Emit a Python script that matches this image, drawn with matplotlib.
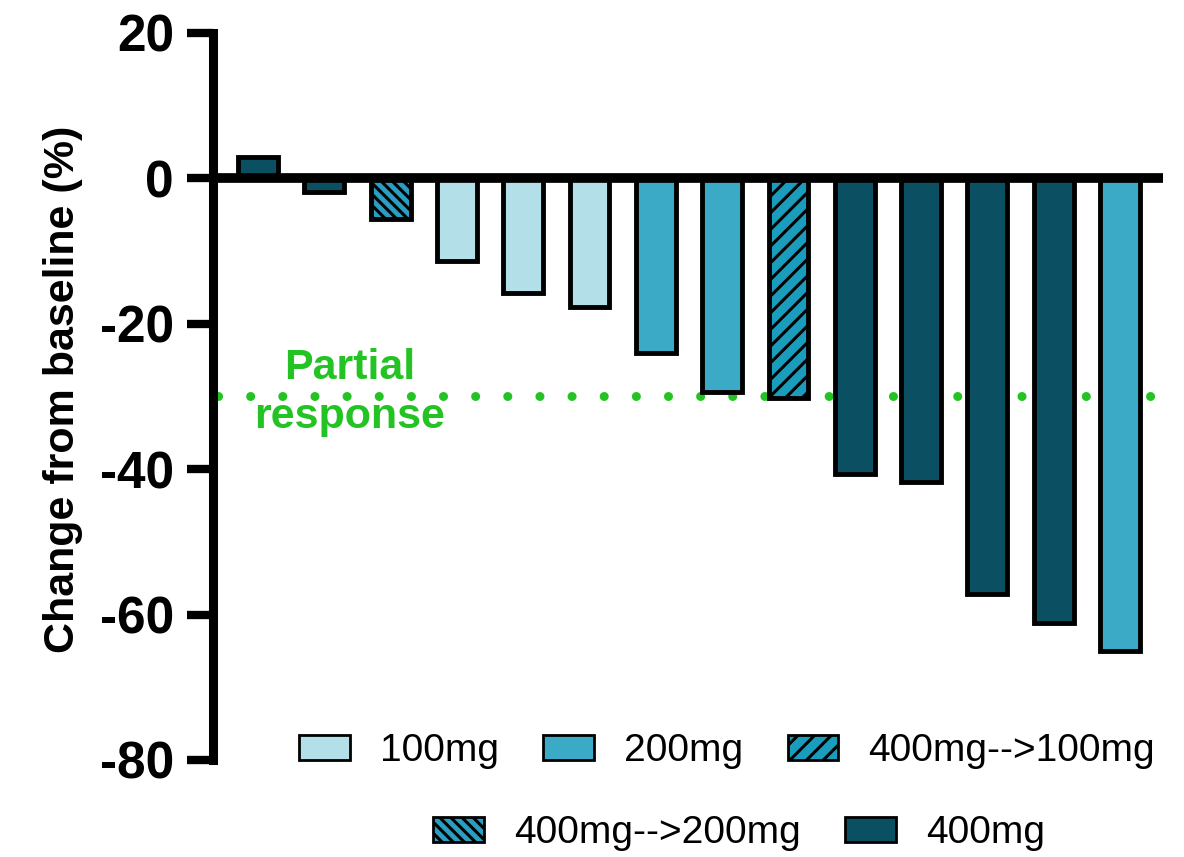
import matplotlib
matplotlib.use("Agg")
import matplotlib.pyplot as plt
from matplotlib.patches import Patch

plt.rcParams['font.family'] = ['Liberation Sans', 'DejaVu Sans']
plt.rcParams['hatch.linewidth'] = 2.2

# data, one bar per patient
groups = ["400mg", "400mg", "400mg-->200mg", "100mg", "100mg", "100mg", "200mg",
          "200mg", "400mg-->100mg", "400mg", "400mg", "400mg", "400mg", "200mg"]
change = [2.9, -1.9, -5.6, -11.4, -15.8, -17.7, -24.0,
          -29.4, -30.2, -40.6, -41.7, -57.2, -61.2, -65.0]
yticks = [20, 0, -20, -40, -60, -80]
pr_level = -30

colors = {"100mg": "#b3e0e8", "200mg": "#3aaac6", "400mg-->100mg": "#1a9dbd",
          "400mg-->200mg": "#2a9ec0", "400mg": "#0b4f62"}
hatches = {"100mg": "", "200mg": "", "400mg-->100mg": "//",
           "400mg-->200mg": "\\\\\\", "400mg": ""}
green = "#22c322"

fig = plt.figure(figsize=(11.84, 8.57), dpi=100)
ax = fig.add_axes([0.1799, 0.1132, 0.8024, 0.8483])

for i, (g, v) in enumerate(zip(groups, change)):
    ax.bar(i, v, width=0.6, color=colors[g], hatch=hatches[g],
           edgecolor="black", linewidth=3.5, zorder=3)

ax.axhline(0, color="black", linewidth=7, zorder=4)

# partial response threshold
ax.plot([-0.6, 13.78], [pr_level, pr_level], color=green, linewidth=6.5,
        linestyle=(0, (0.01, 3.55)), dash_capstyle="round", zorder=2, clip_on=False)
ax.text(1.38, -27.6, "Partial", color=green, fontsize=31, fontweight="bold",
        ha="center", va="baseline")
ax.text(1.38, -34.4, "response", color=green, fontsize=31, fontweight="bold",
        ha="center", va="baseline")

ax.set_xlim(-0.68, 13.65)
ax.set_ylim(-80, 20)
ax.set_yticks(yticks)
ax.set_yticklabels([str(t) for t in yticks], fontweight="bold")
ax.set_xticks([])
ax.tick_params(axis="y", length=19, width=6, pad=9, labelsize=37)
for s in ["top", "right", "bottom"]:
    ax.spines[s].set_visible(False)
ax.spines["left"].set_linewidth(6.5)

ax.set_ylabel("Change from baseline (%)", fontsize=31, fontweight="bold")
ax.yaxis.set_label_coords(-0.137, 0.51)

def handle(g):
    return Patch(facecolor=colors[g], hatch=hatches[g], edgecolor="black",
                 linewidth=2, label=g)

row1 = ["100mg", "200mg", "400mg-->100mg"]
row2 = ["400mg-->200mg", "400mg"]
common = dict(frameon=False, fontsize=28, handlelength=1.3, handleheight=0.62,
              handletextpad=0.77, columnspacing=1.15, borderpad=0, loc="center")
fig.legend(handles=[handle(g) for g in row1], ncol=3,
           bbox_to_anchor=(727 / 1184, 1 - 751 / 857), **common)
fig.legend(handles=[handle(g) for g in row2], ncol=2,
           bbox_to_anchor=(739 / 1184, 1 - 833 / 857), **common)

fig.savefig("out.png", dpi=100)
